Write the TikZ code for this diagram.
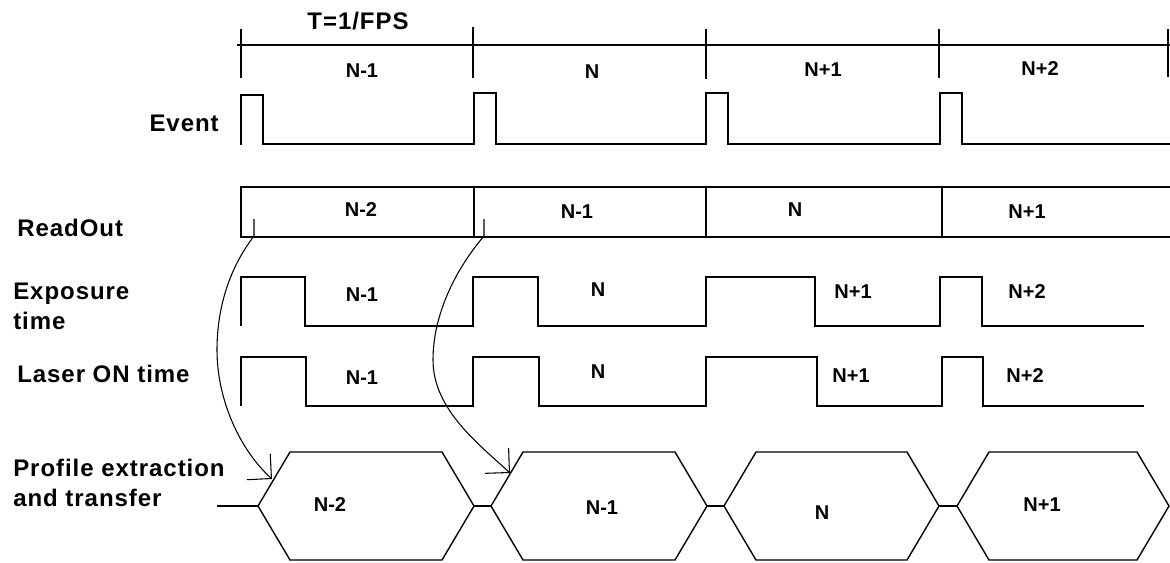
\documentclass[tikz,border=0pt]{standalone}
\usepackage{fontspec}
\setmainfont{Liberation Sans}
\newfontfamily\lblfont[LetterSpace=4]{Liberation Sans}
\usetikzlibrary{arrows.meta}
\tikzset{
  wave/.style={draw=black, line width=1.05pt, line join=miter},
  frame/.style={draw=black, line width=1.05pt},
  lbl/.style={font=\lblfont\fontsize{18}{22.5}\selectfont\bfseries, inner sep=0pt, align=left},
  nlbl/.style={font=\fontsize{15}{18}\selectfont\bfseries, inner sep=0pt},
  curvearrow/.style={draw=black, line width=0.8pt, -{Straight Barb[length=13pt,width=26pt]}}
}
\begin{document}
\begin{tikzpicture}[x=0.75pt,y=-0.75pt]
\useasboundingbox (0,0) rectangle (1170,562);

% ---------- top timeline ----------
\node[lbl, anchor=center] (tfps) at (358,21) {T=1/FPS};
\draw[frame] (237,45) -- (1170,45);
\foreach \x/\a/\b in {241/29/78, 473/27/78, 706/29/79, 939/29/78, 1168/29/77}
  \draw[frame] (\x,\a) -- (\x,\b);
\node[nlbl] (t1) at (362,71) {N-1};
\node[nlbl] (t2) at (592,72) {N};
\node[nlbl] (t3) at (823,70) {N+1};
\node[nlbl] (t4) at (1040,69) {N+2};

% ---------- Event ----------
\node[lbl, anchor=base east] (ev) at (219,131) {Event};
\draw[wave] (241,145) -- (241,95) -- (263,95) -- (263,144) -- (474,144) -- (474,93) -- (496,93)
  -- (496,144) -- (706,144) -- (706,93) -- (728,93) -- (728,144) -- (940,144) -- (940,93)
  -- (962,93) -- (962,144) -- (1170,144);

% ---------- ReadOut ----------
\node[lbl, anchor=base west] (ro) at (17,236) {ReadOut};
\draw[frame] (1170,187) -- (241,187) -- (241,237) -- (1170,237);
\foreach \x in {474,706,942} \draw[frame] (\x,187) -- (\x,237);
\node[nlbl] (r1l) at (361,210) {N-2};
\node[nlbl] (r2l) at (577,212) {N-1};
\node[nlbl] (r3l) at (795,210) {N};
\node[nlbl] (r4l) at (1027,212) {N+1};

% ---------- Exposure ----------
\node[lbl, anchor=north west] (ex) at (13,283) {Exposure\\time};
\draw[wave] (241,326) -- (241,277) -- (305,277) -- (305,326) -- (473,326) -- (473,277) -- (538,277)
  -- (538,326) -- (706,326) -- (706,277) -- (815,277) -- (815,326) -- (940,326) -- (940,277)
  -- (982,277) -- (982,326) -- (1144,326);
\node[nlbl] (e1) at (362,295) {N-1};
\node[nlbl] (e2) at (598,290) {N};
\node[nlbl] (e3) at (853,292) {N+1};
\node[nlbl] (e4) at (1027,292) {N+2};

% ---------- Laser ----------
\node[lbl, anchor=base west] (la) at (17,382) {Laser ON time};
\draw[wave] (241,406) -- (241,357) -- (306,357) -- (306,406) -- (473,406) -- (473,357) -- (539,357)
  -- (539,406) -- (706,406) -- (706,357) -- (817,357) -- (817,406) -- (942,406) -- (942,357)
  -- (983,357) -- (983,406) -- (1144,406);
\node[nlbl] (l1) at (362,378) {N-1};
\node[nlbl] (l2) at (598,372) {N};
\node[nlbl] (l3) at (851,376) {N+1};
\node[nlbl] (l4) at (1025,376) {N+2};

% ---------- Profile extraction ----------
\node[lbl, anchor=north west] (pe) at (13,459) {Profile extraction\\and transfer};
\foreach \L/\R in {258/474, 491/707, 724/939, 957/1169}
  \draw[frame] (\L,506) -- (\L+32,452) -- (\R-32,452) -- (\R,506) -- (\R-32,560) -- (\L+32,560) -- cycle;
\draw[frame] (217,506) -- (258,506);
\draw[frame] (474,506) -- (491,506);
\draw[frame] (707,506) -- (724,506);
\draw[frame] (939,506) -- (957,506);
\node[nlbl] (h1) at (330,505) {N-2};
\node[nlbl] (h2) at (602,508) {N-1};
\node[nlbl] (h3) at (822,513) {N};
\node[nlbl] (h4) at (1042,505) {N+1};

% ---------- curved arrows ----------
\coordinate (ra) at (254,219);
\coordinate (rb) at (484,219);
\coordinate (ta) at (272,479);
\coordinate (tb) at (510,473);
\draw[curvearrow] (ra) -- ++(0,17) .. controls (228,270) and (217,310) .. (217,350)
  .. controls (217,400) and (240,450) .. (ta);
\draw[curvearrow] (rb) -- ++(0,17) .. controls (455,270) and (433,315) .. (433,360)
  .. controls (433,410) and (480,445) .. (tb);
\end{tikzpicture}
\end{document}
